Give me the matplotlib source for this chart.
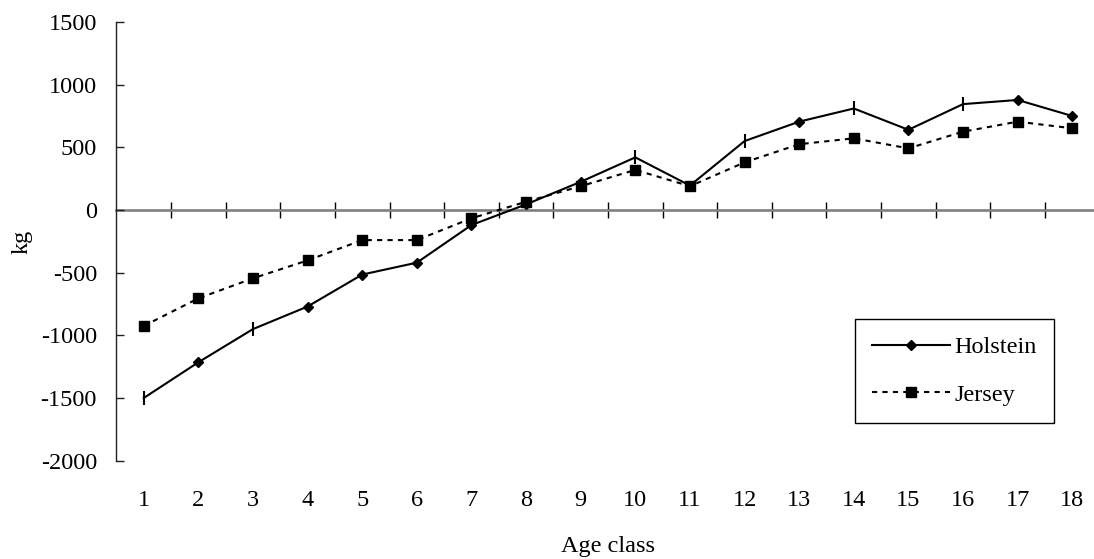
import matplotlib
matplotlib.use("Agg")
import matplotlib.pyplot as plt
import numpy as np

plt.rcParams['font.family'] = ['Liberation Serif', 'DejaVu Serif']
plt.rcParams['font.size'] = 17.5

age_class = list(range(1, 19))
holstein = [-1500, -1215, -950, -770, -515, -420, -120, 45, 225, 420, 195, 550,
            705, 810, 640, 845, 878, 750]
jersey = [-925, -705, -545, -402, -240, -240, -66, 66, 190, 320, 190, 380,
          525, 572, 492, 625, 705, 652]
holstein_diamond_idx = [1, 3, 4, 5, 6, 7, 8, 10, 12, 14, 16, 17]
holstein_tick_idx = [0, 2, 9, 11, 13, 15]
y_ticks = [-2000, -1500, -1000, -500, 0, 500, 1000, 1500]

W, H = 1094, 559
fig = plt.figure(figsize=(W / 100, H / 100), dpi=100)
ax = fig.add_axes([116.4 / W, 1 - 460.7 / H, 983.2 / W, 438.7 / H])

ax.set_xlim(0.5, 18.5)
ax.set_ylim(-2000, 1500)

# data
ax.plot(age_class, jersey, color='black', lw=1.5, ls=(0, (2.5, 2.5)),
        marker='s', ms=7, mfc='black', mec='black', label='Jersey', zorder=3)
ax.plot(age_class, holstein, color='black', lw=1.5, ls='-',
        marker='D', ms=5, mfc='black', mec='black',
        markevery=holstein_diamond_idx, label='Holstein', zorder=4)
ax.plot([age_class[i] for i in holstein_tick_idx],
        [holstein[i] for i in holstein_tick_idx],
        ls='none', marker='|', ms=10, mew=1.5, color='black', zorder=4)

# spines
for s in ['top', 'right', 'bottom']:
    ax.spines[s].set_visible(False)
ax.spines['left'].set_linewidth(1.0)
ax.spines['left'].set_color('#222222')

ax.set_yticks(y_ticks)
ax.set_yticklabels([str(v) for v in y_ticks])
ax.tick_params(axis='y', direction='in', length=6, width=1.0, color='#222222',
               pad=14)

ax.set_xticks(age_class)
ax.set_xticklabels([str(v) for v in age_class])
ax.tick_params(axis='x', length=0, pad=21)

# zero axis line with crossing ticks
secax = ax.secondary_xaxis(2000 / 3500)
secax.set_xticks([c + 0.5 for c in age_class[:-1]])
secax.tick_params(axis='x', direction='inout', length=11.5, width=1.0,
                  color='black', labeltop=False, labelbottom=False)
for s in secax.spines.values():
    s.set_color('#808080')
    s.set_linewidth(1.9)

fig.text(21.7 / W, 1 - 241.5 / H, 'kg', rotation=90, ha='center', va='center')
fig.text(608 / W, 1 - 546.5 / H, 'Age class', ha='center', va='center')

handles, labels = ax.get_legend_handles_labels()
order = [1, 0]
leg = ax.legend([handles[i] for i in order], [labels[i] for i in order],
                loc='upper left', bbox_to_anchor=(855 / W, 1 - 319 / H),
                bbox_transform=fig.transFigure, borderaxespad=0,
                frameon=True, fancybox=False, framealpha=1,
                edgecolor='black', handlelength=3.2, handletextpad=0.2,
                borderpad=0.7, labelspacing=1.05)
leg.get_frame().set_linewidth(1.0)

fig.savefig('out.png', dpi=100)
